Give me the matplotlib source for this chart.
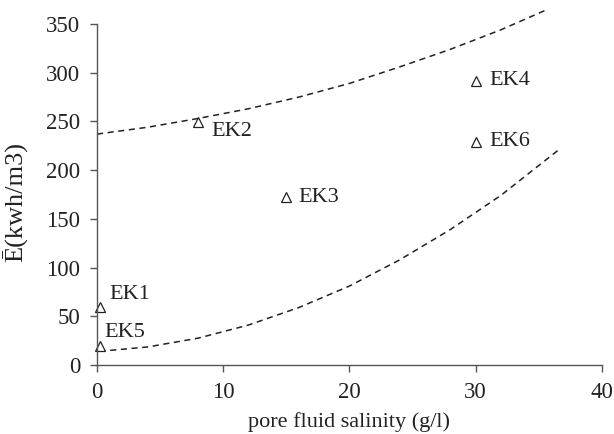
import matplotlib
matplotlib.use("Agg")
import matplotlib.pyplot as plt

# Sample points
sample_names = ["EK1", "EK2", "EK3", "EK4", "EK5", "EK6"]
salinity = [0.2, 8, 15, 30, 0.2, 30]
energy = [60, 249, 172, 292, 19, 229]

# Upper dashed envelope
upper_x = [0, 4, 8, 12, 16, 20, 24, 28, 32, 35.7]
upper_y = [237, 244, 253, 263, 275, 289, 306, 324, 344, 365]

# Lower dashed envelope
lower_x = [0.2, 4, 8, 12, 16, 20, 24, 28, 32, 36.7]
lower_y = [14, 18.5, 27.5, 41, 59, 81, 108, 139, 174, 222]

x_ticks = [0, 10, 20, 30, 40]
y_ticks = [0, 50, 100, 150, 200, 250, 300, 350]

plt.rcParams['font.family'] = ['Liberation Serif', 'DejaVu Serif']

fig = plt.figure(figsize=(6.14, 4.34), dpi=100)
ax = fig.add_axes([0.158, 0.159, 0.822, 0.7857])

ax.plot(upper_x, upper_y, linestyle=(0, (4, 3)), color='#222222', lw=1.1, clip_on=False)
ax.plot(lower_x, lower_y, linestyle=(0, (4, 3)), color='#222222', lw=1.1, clip_on=False)
ax.plot(salinity, energy, linestyle='none', marker='^', markersize=7.5,
        markerfacecolor='white', markeredgecolor='#222222', markeredgewidth=0.9,
        clip_on=False)

offsets = {"EK1": (7, 9), "EK2": (10, -6.5), "EK3": (9, 0), "EK4": (10, 0),
           "EK5": (3.5, 10), "EK6": (10, 0)}
for n, xv, yv in zip(sample_names, salinity, energy):
    ax.annotate(n, (xv, yv), xytext=offsets[n], textcoords='offset points',
                ha='left', va='center', fontsize=16, color='#222222')

ax.set_xlim(0, 40)
ax.set_ylim(0, 350)
ax.set_xticks(x_ticks)
ax.set_yticks(y_ticks)
for s in ['top', 'right']:
    ax.spines[s].set_visible(False)
for s in ['left', 'bottom']:
    ax.spines[s].set_color('#555555')
    ax.spines[s].set_linewidth(1.0)
ax.tick_params(axis='both', direction='out', length=5, width=1.0, color='#555555',
               labelsize=16.5, labelcolor='#222222', pad=7)
ax.set_xlabel('pore fluid salinity (g/l)', fontsize=16, color='#222222', labelpad=7)
ax.set_ylabel('Ē(kwh/m3)', fontsize=19, color='#222222')
ax.yaxis.set_label_coords(-0.137, 0.478)

fig.savefig('out.png', dpi=100)
